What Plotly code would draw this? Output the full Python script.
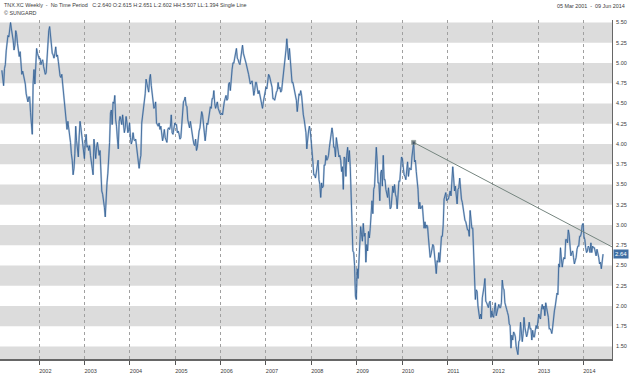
import plotly.graph_objects as go
import pandas as pd

# Weekly closes of TNX (10y yield, %), one list per calendar year (weeks starting Monday)
y2001 = [4.91, 4.80, 4.72, 4.93, 4.98, 5.15, 5.26, 5.34, 5.32, 5.45, 5.50, 5.42, 5.36, 5.28, 5.16,
         5.22, 5.40, 5.35, 5.24, 5.12, 5.08, 5.14, 4.96, 4.86, 4.90, 4.84, 4.80, 4.74, 4.62, 4.56,
         4.52, 4.58, 4.58, 4.39, 4.25, 4.12, 4.75, 4.92, 4.74, 5.04, 5.18, 5.12, 5.07, 5.05]
y2002 = [5.06, 4.98, 5.02, 5.04, 4.96, 4.90, 4.86, 4.88, 5.10, 5.32, 5.40, 5.45, 5.30, 5.24, 5.12,
         5.10, 5.06, 5.12, 5.20, 5.08, 5.10, 5.02, 4.90, 4.84, 4.82, 4.86, 4.74, 4.62, 4.52, 4.46,
         4.30, 4.18, 4.28, 4.20, 4.14, 4.02, 3.88, 3.80, 3.62, 3.70, 3.88, 4.22, 4.04, 3.96, 3.84,
         4.10, 4.28, 4.20, 4.08, 4.02, 3.86, 3.82]
y2003 = [4.02, 4.12, 3.96, 3.98, 3.92, 3.98, 3.86, 3.72, 3.70, 3.62, 4.06, 3.94, 3.82, 3.96, 4.02,
         3.94, 3.86, 3.92, 3.58, 3.42, 3.38, 3.32, 3.22, 3.10, 3.40, 3.52, 3.64, 3.80, 4.02, 4.38,
         4.42, 4.24, 4.52, 4.50, 4.60, 4.30, 4.22, 4.06, 3.94, 4.28, 4.34, 4.30, 4.24, 4.36, 4.28,
         4.14, 4.20, 4.34, 4.26, 4.14, 4.18, 4.26]
y2004 = [4.08, 4.00, 4.04, 4.14, 4.06, 4.04, 4.06, 3.98, 3.84, 3.76, 3.70, 3.80, 3.86, 4.26, 4.36,
         4.42, 4.50, 4.62, 4.80, 4.74, 4.70, 4.64, 4.80, 4.86, 4.72, 4.60, 4.46, 4.44, 4.46, 4.52,
         4.26, 4.24, 4.22, 4.26, 4.18, 4.22, 4.12, 4.04, 4.10, 4.18, 4.08, 4.04, 4.02, 4.18, 4.20,
         4.18, 4.22, 4.36, 4.14, 4.12, 4.20, 4.26]
y2005 = [4.24, 4.24, 4.14, 4.16, 4.12, 4.06, 4.08, 4.26, 4.36, 4.52, 4.54, 4.58, 4.48, 4.46, 4.30,
         4.24, 4.20, 4.28, 4.18, 4.10, 4.06, 4.00, 3.98, 4.06, 3.92, 3.96, 4.10, 4.16, 4.20, 4.28,
         4.40, 4.36, 4.22, 4.18, 4.04, 4.14, 4.26, 4.24, 4.32, 4.36, 4.46, 4.44, 4.56, 4.56, 4.66,
         4.50, 4.44, 4.48, 4.52, 4.44, 4.40, 4.38]
y2006 = [4.36, 4.38, 4.36, 4.46, 4.52, 4.56, 4.60, 4.54, 4.56, 4.74, 4.76, 4.66, 4.86, 4.92, 5.00,
         5.00, 5.06, 5.12, 5.18, 5.06, 5.04, 5.00, 4.98, 5.06, 5.16, 5.22, 5.12, 5.06, 5.04, 5.00,
         4.96, 4.90, 4.86, 4.80, 4.74, 4.76, 4.78, 4.70, 4.60, 4.66, 4.76, 4.76, 4.70, 4.62, 4.66,
         4.60, 4.54, 4.48, 4.44, 4.52, 4.60, 4.66]
y2007 = [4.70, 4.68, 4.76, 4.86, 4.84, 4.80, 4.74, 4.70, 4.56, 4.56, 4.54, 4.60, 4.64, 4.66, 4.76,
         4.68, 4.70, 4.64, 4.66, 4.76, 4.86, 4.90, 4.98, 5.16, 5.30, 5.10, 5.04, 5.18, 5.06, 4.94,
         4.76, 4.76, 4.70, 4.64, 4.58, 4.54, 4.40, 4.54, 4.62, 4.60, 4.66, 4.60, 4.40, 4.36, 4.30,
         4.20, 4.14, 3.94, 4.08, 4.16, 4.22, 4.16, 4.04]
y2008 = [3.84, 3.78, 3.62, 3.62, 3.58, 3.66, 3.76, 3.80, 3.56, 3.50, 3.34, 3.52, 3.46, 3.48, 3.74,
         3.74, 3.86, 3.80, 3.82, 3.86, 3.96, 4.06, 4.16, 4.20, 4.12, 3.96, 3.96, 3.84, 4.08, 4.00,
         3.94, 3.84, 3.86, 3.80, 3.66, 3.72, 3.44, 3.84, 3.82, 3.60, 3.86, 3.96, 3.78, 3.92, 3.72,
         3.20, 3.04, 2.68, 2.66, 2.50, 2.12, 2.08]
y2009 = [2.46, 2.34, 2.62, 2.86, 2.98, 2.88, 2.80, 3.02, 2.86, 2.90, 2.54, 2.76, 2.68, 2.92, 2.84,
         2.96, 3.10, 3.30, 3.14, 3.44, 3.48, 3.84, 3.96, 3.78, 3.52, 3.52, 3.30, 3.64, 3.68, 3.48,
         3.86, 3.56, 3.56, 3.44, 3.38, 3.34, 3.46, 3.30, 3.20, 3.22, 3.40, 3.48, 3.40, 3.50, 3.38,
         3.34, 3.20, 3.46, 3.54, 3.54, 3.74, 3.84]
y2010 = [3.82, 3.66, 3.62, 3.60, 3.56, 3.68, 3.78, 3.60, 3.70, 3.70, 3.68, 3.84, 3.92, 4.02, 3.78,
         3.80, 3.66, 3.54, 3.44, 3.20, 3.28, 3.20, 3.22, 3.24, 3.10, 2.96, 3.04, 2.96, 3.00, 2.98,
         2.84, 2.68, 2.60, 2.64, 2.70, 2.76, 2.74, 2.56, 2.52, 2.40, 2.56, 2.54, 2.66, 2.54, 2.82,
         2.86, 2.86, 3.00, 3.32, 3.36, 3.40, 3.30]
y2011 = [3.32, 3.32, 3.40, 3.42, 3.36, 3.64, 3.72, 3.58, 3.42, 3.48, 3.30, 3.26, 3.44, 3.46, 3.58,
         3.40, 3.32, 3.28, 3.18, 3.14, 3.06, 3.04, 2.98, 2.94, 2.94, 2.86, 3.18, 3.02, 2.96, 2.96,
         2.56, 2.34, 2.08, 2.20, 2.18, 2.00, 1.92, 1.84, 1.90, 1.84, 2.10, 2.22, 2.24, 2.34, 2.06,
         2.04, 2.00, 1.98, 2.04, 2.06, 1.86, 1.94]
y2012 = [1.88, 1.86, 1.96, 2.04, 1.88, 1.92, 1.98, 2.02, 1.98, 1.98, 2.04, 2.32, 2.22, 2.20, 2.04,
         1.98, 1.96, 1.92, 1.88, 1.78, 1.76, 1.48, 1.64, 1.58, 1.68, 1.66, 1.62, 1.50, 1.46, 1.40,
         1.56, 1.58, 1.80, 1.70, 1.56, 1.66, 1.86, 1.74, 1.64, 1.62, 1.66, 1.74, 1.80, 1.72, 1.72,
         1.58, 1.70, 1.62, 1.62, 1.70, 1.76, 1.72, 1.84]
y2013 = [1.90, 1.86, 1.84, 1.96, 2.02, 1.96, 2.00, 1.88, 2.04, 1.98, 1.92, 1.86, 1.72, 1.72, 1.70,
         1.66, 1.74, 1.90, 1.94, 2.00, 2.14, 2.16, 2.14, 2.52, 2.48, 2.72, 2.58, 2.48, 2.56, 2.60,
         2.58, 2.82, 2.82, 2.78, 2.94, 2.88, 2.74, 2.62, 2.66, 2.68, 2.60, 2.52, 2.56, 2.60, 2.70,
         2.74, 2.74, 2.86, 2.86, 2.90, 3.00, 3.02]
y2014 = [2.86, 2.82, 2.72, 2.66, 2.68, 2.74, 2.72, 2.66, 2.78, 2.66, 2.74, 2.72, 2.72, 2.64, 2.62,
         2.70, 2.66, 2.60, 2.52, 2.54, 2.46, 2.60, 2.64]

first_week = "2001-03-05"

# Trend line anchors (date, value)
trend_dates = ["2010-04-05", "2014-08-20"]
trend_values = [4.02, 2.73]

y_ticks = [1.50, 1.75, 2.00, 2.25, 2.50, 2.75, 3.00, 3.25, 3.50, 3.75, 4.00, 4.25, 4.50, 4.75, 5.00, 5.25, 5.50]
band_lows = [5.25, 4.75, 4.25, 3.75, 3.25, 2.75, 2.25, 1.75, 1.25]

header_left = "TNX.XC Weekly  -  No Time Period   C:2.640 O:2.615 H:2.651 L:2.602 HH:5.507 LL:1.394 Single Line"
header_left2 = "© SUNGARD"
header_right = "05 Mar 2001  -  09 Jun 2014"

values = y2001 + y2002 + y2003 + y2004 + y2005 + y2006 + y2007 + y2008 + y2009 + y2010 + y2011 + y2012 + y2013 + y2014
dates = pd.date_range(first_week, periods=len(values), freq="7D")

W, H = 630, 373
ML, MR, MT, MB = 0, 18, 20, 14
PW, PH = W - ML - MR, H - MT - MB
YMIN, YMAX = 1.346, 5.531
FONT = "Liberation Sans, Arial, sans-serif"
TXT = "#3a3a3a"
LINE_BLUE = "#2f5d92"
HALO_BLUE = "rgba(110,148,192,0.5)"
BOX_BLUE = "#3f6ea3"

fig = go.Figure()
fig.add_trace(go.Scatter(x=dates, y=values, mode="lines",
                         line=dict(color=HALO_BLUE, width=1.9), hoverinfo="skip"))
fig.add_trace(go.Scatter(x=dates, y=values, mode="lines",
                         line=dict(color=LINE_BLUE, width=0.8), hoverinfo="skip"))
fig.add_trace(go.Scatter(x=trend_dates, y=trend_values, mode="lines+markers",
                         line=dict(color="#75857f", width=1),
                         marker=dict(size=[4, 0], color="#3b4a55", symbol="square"),
                         hoverinfo="skip"))

shapes = []
for lo in band_lows:
    shapes.append(dict(type="rect", xref="paper", yref="y", x0=0, x1=1,
                       y0=max(lo, YMIN), y1=lo + 0.25, fillcolor="#dcdcdc",
                       line=dict(width=0), layer="below"))

def px_x(px):
    return (px - ML) / PW

def px_y(py):
    return 1 - (py - MT) / PH

annotations = [
    dict(text=header_left, xref="paper", yref="paper", x=px_x(2), y=px_y(5),
         xanchor="left", yanchor="middle", showarrow=False,
         font=dict(family=FONT, size=5.4, color=TXT)),
    dict(text=header_left2, xref="paper", yref="paper", x=px_x(2), y=px_y(13),
         xanchor="left", yanchor="middle", showarrow=False,
         font=dict(family=FONT, size=5.4, color=TXT)),
    dict(text=header_right, xref="paper", yref="paper", x=px_x(627), y=px_y(6),
         xanchor="right", yanchor="middle", showarrow=False,
         font=dict(family=FONT, size=5.4, color=TXT)),
    dict(text=f"{values[-1]:.2f}", xref="paper", yref="y", x=px_x(613), y=values[-1],
         xanchor="left", yanchor="middle", showarrow=False, bgcolor=BOX_BLUE,
         borderpad=1, font=dict(family=FONT, size=6, color="white")),
]

fig.update_layout(
    width=W, height=H,
    margin=dict(l=ML, r=MR, t=MT, b=MB, pad=0),
    plot_bgcolor="white", paper_bgcolor="white",
    showlegend=False,
    shapes=shapes,
    annotations=annotations,
    font=dict(family=FONT, size=5.5, color=TXT),
    xaxis=dict(type="date", range=["2001-02-18", "2014-08-20"],
               showgrid=True, gridcolor="#a0a0a0", griddash="dot", gridwidth=1,
               tick0="2002-01-01", dtick="M12", tickformat="%Y",
               ticks="outside", ticklen=4, tickcolor="#555555", tickwidth=1,
               showline=True, linecolor="#666666", linewidth=2,
               tickfont=dict(family=FONT, size=5.5, color=TXT),
               ticklabelshift=6, ticklabelstandoff=1, zeroline=False),
    yaxis=dict(side="right", range=[YMIN, YMAX], tickvals=y_ticks,
               ticktext=[f"{v:.2f}" for v in y_ticks],
               showgrid=False, zeroline=False, showline=True,
               linecolor="#666666", linewidth=1, ticks="", ticklabelstandoff=2,
               tickfont=dict(family=FONT, size=5.5, color=TXT)),
)

fig.write_html("out.html", config={"displayModeBar": False},
               post_script="document.body.style.margin='0';document.body.style.padding='0';")
